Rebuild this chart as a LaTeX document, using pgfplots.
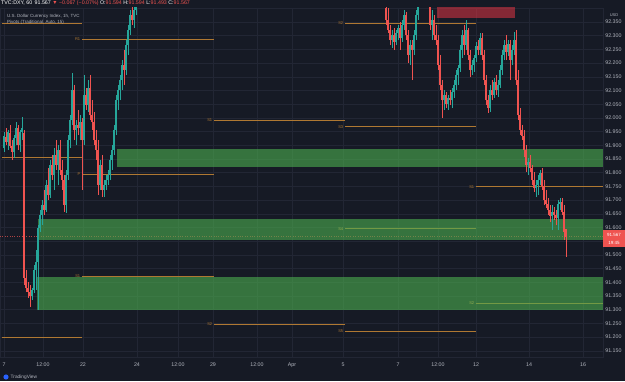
\documentclass[border=0pt]{standalone}
\usepackage{pgfplots}
\pgfplotsset{compat=1.18}
\usepackage{pgfplotstable}
\usepackage{fontspec}
\setmainfont{Liberation Sans}
\definecolor{bg}{RGB}{22,26,37}
\definecolor{gridc}{RGB}{34,38,52}
\definecolor{upc}{RGB}{38,166,154}
\definecolor{dnc}{RGB}{239,83,80}
\definecolor{zoneg}{RGB}{76,175,80}
\definecolor{zoner}{RGB}{242,54,69}
\definecolor{pivc}{RGB}{175,120,50}
\definecolor{pivg}{RGB}{150,175,80}
\definecolor{txt}{RGB}{178,181,190}
\definecolor{logoc}{RGB}{41,98,255}

\pgfplotstableread{
x o h l c
4 91.890 91.948 91.876 91.934
6 91.930 91.963 91.901 91.912
8 91.912 91.956 91.883 91.948
10 91.945 91.974 91.890 91.897
12 91.897 91.919 91.846 91.876
14 91.876 91.938 91.854 91.927
16 91.927 91.985 91.901 91.963
18 91.963 91.974 91.883 91.901
20 91.901 91.956 91.876 91.948
22 91.948 92.003 91.919 91.963
24 91.945 91.956 91.390 91.416
26 91.416 91.445 91.365 91.379
28 91.379 91.401 91.343 91.365
30 91.365 91.390 91.310 91.350
32 91.350 91.379 91.335 91.372
34 91.372 91.463 91.361 91.445
36 91.445 91.518 91.372 91.474
38 91.474 91.609 91.299 91.598
40 91.598 91.664 91.583 91.646
42 91.646 91.700 91.609 91.682
44 91.682 91.737 91.646 91.664
46 91.664 91.773 91.657 91.755
48 91.755 91.817 91.700 91.719
50 91.719 91.846 91.708 91.828
52 91.828 91.865 91.773 91.792
54 91.792 91.890 91.737 91.865
56 91.865 91.919 91.810 91.828
58 91.828 91.901 91.755 91.883
60 91.883 91.919 91.792 91.810
62 91.810 91.846 91.737 91.773
64 91.773 91.792 91.657 91.682
66 91.682 91.810 91.653 91.792
68 91.792 91.938 91.773 91.919
70 91.919 92.011 91.890 91.992
72 91.992 92.164 91.974 92.102
74 92.102 92.120 91.919 91.956
76 91.956 91.992 91.901 91.974
78 91.974 92.029 91.938 91.963
80 91.963 92.011 91.919 91.985
82 91.985 92.000 91.737 91.919
84 91.919 92.157 91.901 92.084
86 92.084 92.109 92.029 92.047
88 92.047 92.138 92.021 92.109
90 92.109 92.157 91.992 92.011
92 92.011 92.065 91.956 91.985
94 91.985 92.021 91.901 91.919
96 91.919 91.956 91.846 91.883
98 91.883 91.919 91.719 91.755
100 91.755 91.846 91.737 91.828
102 91.828 91.865 91.711 91.737
104 91.737 91.773 91.711 91.755
106 91.755 91.792 91.737 91.773
108 91.773 91.810 91.755 91.792
110 91.792 91.865 91.773 91.846
112 91.846 91.901 91.810 91.883
114 91.883 91.974 91.865 91.956
116 91.956 92.084 91.938 92.065
118 92.065 92.120 92.029 92.102
120 92.102 92.157 92.065 92.138
122 92.138 92.211 92.102 92.193
124 92.193 92.248 92.120 92.175
126 92.175 92.284 92.157 92.266
128 92.266 92.339 92.230 92.321
130 92.321 92.394 92.303 92.376
132 92.376 92.412 92.339 92.357
134 92.357 92.430 92.328 92.394
136 92.394 92.449 92.376 92.438
386 92.401 92.430 92.339 92.357
388 92.357 92.401 92.310 92.321
390 92.321 92.339 92.266 92.284
392 92.284 92.321 92.255 92.303
394 92.303 92.328 92.248 92.277
396 92.277 92.321 92.266 92.310
398 92.310 92.339 92.284 92.328
400 92.328 92.350 92.248 92.292
402 92.292 92.357 92.277 92.339
404 92.339 92.394 92.321 92.376
406 92.376 92.387 92.284 92.303
408 92.303 92.321 92.200 92.230
410 92.230 92.284 92.193 92.266
412 92.266 92.284 92.138 92.248
414 92.248 92.321 92.230 92.303
416 92.303 92.394 92.284 92.376
418 92.376 92.423 92.357 92.412
430 92.412 92.430 92.321 92.339
432 92.339 92.394 92.284 92.357
434 92.357 92.376 92.284 92.303
436 92.303 92.339 92.266 92.284
438 92.284 92.303 92.175 92.193
440 92.193 92.230 92.102 92.120
442 92.120 92.138 92.000 92.065
444 92.065 92.102 92.029 92.084
446 92.084 92.095 92.036 92.051
448 92.051 92.084 92.029 92.073
450 92.073 92.102 92.047 92.065
452 92.065 92.109 92.036 92.095
454 92.095 92.138 92.073 92.120
456 92.120 92.175 92.102 92.157
458 92.157 92.193 92.120 92.182
460 92.182 92.266 92.167 92.248
462 92.248 92.321 92.219 92.303
464 92.303 92.339 92.230 92.266
466 92.266 92.357 92.248 92.321
468 92.321 92.328 92.211 92.230
470 92.230 92.248 92.149 92.175
472 92.175 92.211 92.157 92.193
474 92.193 92.230 92.167 92.219
476 92.219 92.277 92.204 92.262
478 92.262 92.284 92.230 92.248
480 92.248 92.310 92.230 92.292
482 92.292 92.310 92.211 92.230
484 92.230 92.248 92.120 92.138
486 92.138 92.157 92.047 92.065
488 92.065 92.084 92.018 92.036
490 92.036 92.120 92.021 92.102
492 92.102 92.138 92.065 92.084
494 92.084 92.146 92.073 92.131
496 92.131 92.157 92.084 92.102
498 92.102 92.138 92.076 92.120
500 92.120 92.193 92.109 92.175
502 92.175 92.248 92.157 92.230
504 92.230 92.284 92.211 92.266
506 92.266 92.303 92.211 92.241
508 92.241 92.284 92.226 92.270
510 92.270 92.284 92.138 92.211
512 92.211 92.266 92.193 92.248
514 92.248 92.314 92.230 92.284
516 92.284 92.321 92.120 92.138
518 92.138 92.175 91.992 92.011
520 92.011 92.036 91.938 91.956
522 91.956 91.974 91.919 91.934
524 91.934 91.956 91.857 91.883
526 91.883 91.901 91.802 91.828
528 91.828 91.854 91.792 91.839
530 91.839 91.865 91.802 91.817
532 91.817 91.828 91.755 91.773
534 91.773 91.802 91.730 91.744
536 91.744 91.773 91.711 91.755
538 91.755 91.792 91.719 91.773
540 91.773 91.810 91.755 91.799
542 91.799 91.817 91.737 91.751
544 91.751 91.773 91.682 91.700
546 91.700 91.737 91.671 91.686
548 91.686 91.708 91.646 91.664
550 91.664 91.682 91.620 91.642
552 91.642 91.682 91.591 91.657
554 91.657 91.675 91.627 91.646
556 91.646 91.664 91.609 91.635
558 91.635 91.700 91.591 91.686
560 91.686 91.708 91.664 91.693
562 91.693 91.708 91.646 91.657
564 91.657 91.682 91.554 91.583
566 91.594 91.594 91.493 91.567
}\candles

\begin{document}
\begin{tikzpicture}[x=1pt,y=1pt]
\fill[bg] (0,0) rectangle (625,381);
\path[use as bounding box] (0,0) rectangle (625,381);
\begin{axis}[
  at={(0pt,24pt)}, anchor=south west, scale only axis,
  width=603pt, height=349pt,
  xmin=0, xmax=603, ymin=91.1274, ymax=92.401,
  axis line style={draw=gridc, line width=0.6pt},
  xtick={4,43,83,137,178,213,257,292,343,398,438,476,529,583},
  xticklabels={7,12:00,22,24,12:00,29,12:00,Apr,5,7,12:00,12,14,16},
  ytick={91.15,91.2,91.25,91.3,91.35,91.4,91.45,91.5,91.6,91.65,91.7,91.75,91.8,91.85,91.9,91.95,92,92.05,92.1,92.15,92.2,92.25,92.3,92.35},
  extra y ticks={91.55}, extra y tick labels={},
  yticklabel pos=right,
  major tick length=0pt,
  grid=major, grid style={draw=gridc, line width=0.5pt},
  /pgf/number format/assume math mode=true,
  tick label style={font=\fontsize{5.3}{6}\selectfont, text=txt},
  yticklabel style={/pgf/number format/.cd, fixed, fixed zerofill, precision=3, /tikz/.cd, xshift=-1.2pt},
  xticklabel style={yshift=-2.5pt},
]
% current price line
\addplot[dnc, dotted, line width=0.4pt, opacity=0.7] coordinates {(0,91.567) (603,91.567)};
% pivot lines
\addplot[pivc, line width=0.9pt] coordinates {(2,92.343) (82,92.343)};
\addplot[pivc, line width=0.9pt] coordinates {(2,91.854) (82,91.854)};
\addplot[pivc, line width=0.9pt] coordinates {(2,91.200) (82,91.200)};
\addplot[pivc, line width=0.9pt] coordinates {(82,92.288) (214,92.288)};
\addplot[pivc, line width=0.9pt] coordinates {(82,91.795) (214,91.795)};
\addplot[pivc, line width=0.9pt] coordinates {(82,91.423) (214,91.423)};
\addplot[pivc, line width=0.9pt] coordinates {(214,91.992) (345,91.992)};
\addplot[pivc, line width=0.9pt] coordinates {(214,91.248) (345,91.248)};
\addplot[pivc, line width=0.9pt] coordinates {(345,92.345) (476,92.345)};
\addplot[pivc, line width=0.9pt] coordinates {(345,91.967) (476,91.967)};
\addplot[pivc, line width=0.9pt] coordinates {(345,91.595) (476,91.595)};
\addplot[pivc, line width=0.9pt] coordinates {(345,91.222) (476,91.222)};
\addplot[pivc, line width=0.9pt] coordinates {(476,91.748) (603,91.748)};
\addplot[pivc, line width=0.9pt] coordinates {(476,91.324) (603,91.324)};
% zones
\addplot[draw=none, fill=zoneg, fill opacity=0.6] coordinates {(117,91.821) (603,91.821) (603,91.886) (117,91.886)} -- cycle;
\addplot[draw=none, fill=zoneg, fill opacity=0.6] coordinates {(38,91.554) (603,91.554) (603,91.631) (38,91.631)} -- cycle;
\addplot[draw=none, fill=zoneg, fill opacity=0.6] coordinates {(37,91.299) (603,91.299) (603,91.419) (37,91.419)} -- cycle;
\addplot[draw=none, fill=zoner, fill opacity=0.5] coordinates {(437,92.365) (515,92.365) (515,92.42) (437,92.42)} -- cycle;
% pivot labels
\node[font=\fontsize{4}{4}\selectfont, text=pivc, anchor=east, inner sep=0.6pt] at (axis cs:81,92.288) {R1};
\node[font=\fontsize{4}{4}\selectfont, text=pivc, anchor=east, inner sep=0.6pt] at (axis cs:81,91.795) {P};
\node[font=\fontsize{4}{4}\selectfont, text=pivc, anchor=east, inner sep=0.6pt] at (axis cs:81,91.423) {S1};
\node[font=\fontsize{4}{4}\selectfont, text=pivc, anchor=east, inner sep=0.6pt] at (axis cs:213,91.992) {S1};
\node[font=\fontsize{4}{4}\selectfont, text=pivc, anchor=east, inner sep=0.6pt] at (axis cs:213,91.248) {S2};
\node[font=\fontsize{4}{4}\selectfont, text=pivc, anchor=east, inner sep=0.6pt] at (axis cs:344,92.345) {S2};
\node[font=\fontsize{4}{4}\selectfont, text=pivc, anchor=east, inner sep=0.6pt] at (axis cs:344,91.967) {S3};
\node[font=\fontsize{4}{4}\selectfont, text=pivg, anchor=east, inner sep=0.6pt] at (axis cs:344,91.595) {S4};
\node[font=\fontsize{4}{4}\selectfont, text=pivc, anchor=east, inner sep=0.6pt] at (axis cs:344,91.222) {S5};
\node[font=\fontsize{4}{4}\selectfont, text=pivc, anchor=east, inner sep=0.6pt] at (axis cs:475,91.748) {S1};
\node[font=\fontsize{4}{4}\selectfont, text=pivg, anchor=east, inner sep=0.6pt] at (axis cs:475,91.324) {S2};
% candles: wicks
\addplot[draw=none, mark=none, restrict expr to domain={\thisrow{c}-\thisrow{o}}{0:1},
  error bars/.cd, y dir=plus, y explicit, error mark=none,
  error bar style={draw=upc, line width=0.45pt}]
  table[x=x, y=l, y error expr=\thisrow{h}-\thisrow{l}] {\candles};
\addplot[draw=none, mark=none, restrict expr to domain={\thisrow{o}-\thisrow{c}}{0.00001:1},
  error bars/.cd, y dir=plus, y explicit, error mark=none,
  error bar style={draw=dnc, line width=0.45pt}]
  table[x=x, y=l, y error expr=\thisrow{h}-\thisrow{l}] {\candles};
% candles: bodies
\addplot[draw=none, mark=none, restrict expr to domain={\thisrow{c}-\thisrow{o}}{0:1},
  error bars/.cd, y dir=plus, y explicit, error mark=none,
  error bar style={draw=upc, line width=1.4pt}]
  table[x=x, y=o, y error expr=\thisrow{c}-\thisrow{o}] {\candles};
\addplot[draw=none, mark=none, restrict expr to domain={\thisrow{o}-\thisrow{c}}{0.00001:1},
  error bars/.cd, y dir=plus, y explicit, error mark=none,
  error bar style={draw=dnc, line width=1.4pt}]
  table[x=x, y=c, y error expr=\thisrow{o}-\thisrow{c}] {\candles};
\end{axis}
% header texts
\node[anchor=west, inner sep=0, font=\fontsize{5.3}{6}\selectfont, text=white] at (1,377.5)
  {TVC:DXY, 60\, 91.567 \textcolor{dnc}{▼} \textcolor{dnc}{−0.067 (−0.07\%)} O:\textcolor{dnc}{91.594} H:\textcolor{dnc}{91.594} L:\textcolor{dnc}{91.493} C:\textcolor{dnc}{91.567}};
\node[anchor=west, inner sep=0, font=\fontsize{4.5}{5}\selectfont, text=txt] at (7,365) {U.S. Dollar Currency Index, 1h, TVC};
\node[anchor=west, inner sep=0, font=\fontsize{4.5}{5}\selectfont, text=txt] at (7,358.5) {Pivots (Traditional, Auto, 15)};
\node[inner sep=0, font=\fontsize{4}{5}\selectfont, text=txt] at (614,366) {USD};
% current price label
\fill[dnc] (603,134) rectangle (625,151);
\node[inner sep=0, font=\fontsize{4.5}{5}\selectfont, text=white] at (614,146.5) {91.567};
\node[inner sep=0, font=\fontsize{4.5}{5}\selectfont, text=white] at (614,138.5) {19:45};
% logo
\fill[logoc] (6,4) circle (2.6);
\node[anchor=west, inner sep=0, font=\fontsize{4.8}{5}\selectfont, text=txt] at (10.5,4) {TradingView};
\end{tikzpicture}
\end{document}
